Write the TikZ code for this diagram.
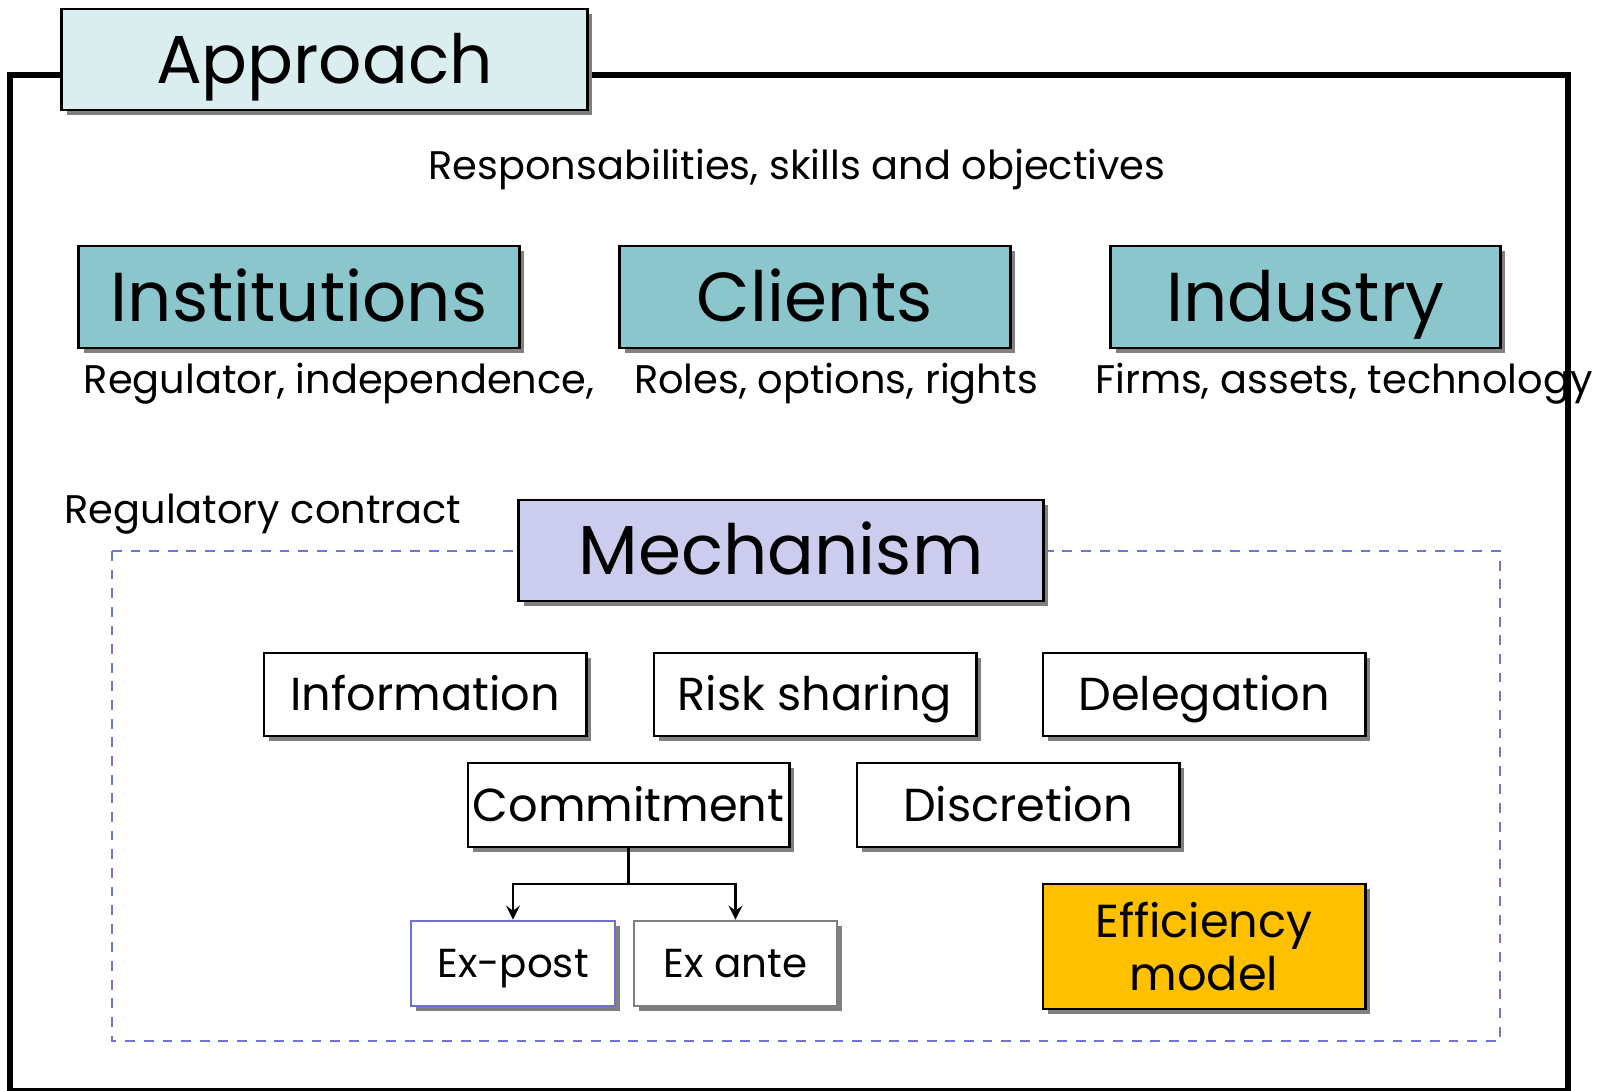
\documentclass[tikz,border=0pt]{standalone}
\usepackage{fontspec}
\setmainfont{Poppins}
\usetikzlibrary{shapes.geometric, arrows, shadows}

\definecolor{apfill}{HTML}{DAEEF0}
\definecolor{tealfill}{HTML}{8AC6CC}
\definecolor{mechfill}{HTML}{CCCCEE}
\definecolor{dashblue}{HTML}{7373D2}
\definecolor{postblue}{HTML}{6F6FD0}
\definecolor{effyellow}{HTML}{FFC000}

\tikzstyle{arrow} = [line width=0.75pt,->,>=stealth]
\tikzstyle{box} = [draw, line width=0.8pt, fill=white, inner sep=0pt,
  drop shadow={shadow xshift=1.5pt, shadow yshift=-1.5pt, fill=gray, opacity=1}]
\tikzstyle{bigbox} = [box, font=\fontsize{19.7}{23}\selectfont, text height=17.7pt, text depth=3.9pt]
\tikzstyle{midbox} = [box, font=\fontsize{13.15}{15.2}\selectfont, text height=11.8pt, text depth=2.6pt]
\tikzstyle{smallbox} = [box, font=\fontsize{11.5}{14}\selectfont, text height=10.35pt, text depth=2.3pt]
\tikzstyle{caption} = [font=\fontsize{11.35}{14}\selectfont]

\begin{document}
\begin{tikzpicture}[x=0.01cm, y=-0.01cm]
\useasboundingbox (0,0) rectangle (1599,1090);

% --- Frame ---
\draw[line width=1.7pt] (10,75) rectangle (1568,1091);
\draw[dashblue, line width=0.8pt, dash pattern=on 2.8pt off 2.5pt] (112,551) rectangle (1500,1041);

% --- Approach ---
\node[bigbox, fill=apfill, minimum width=5.25cm, minimum height=1.01cm,
  font=\fontsize{19.3}{23}\selectfont] (approach) at (324.5,59.5) {Approach};
\node[caption] (resp) at (797,169) {Responsabilities, skills and objectives};

% level 1
\node[bigbox, fill=tealfill, minimum width=4.4cm, minimum height=1.02cm] (inst) at (299,297) {Institutions};
\node[bigbox, fill=tealfill, minimum width=3.9cm, minimum height=1.02cm] (clients) at (815,297) {Clients};
\node[bigbox, fill=tealfill, minimum width=3.89cm, minimum height=1.02cm] (industry) at (1305.5,297) {Industry};

\node[caption] (instlbl) at (339,384) {Regulator, independence,};
\node[caption] (clientslbl) at (836,384) {Roles, options, rights};
\node[caption] (industrylbl) at (1344,384) {Firms, assets, technology};

% --- Mechanism ---
\node[caption] (contract) at (263,514) {Regulatory contract};
\node[bigbox, fill=mechfill, minimum width=5.24cm, minimum height=1.01cm] (mech) at (781,550.5) {Mechanism};

\node[midbox, minimum width=3.22cm, minimum height=0.83cm] (info) at (425,694.5) {Information};
\node[midbox, minimum width=3.22cm, minimum height=0.83cm] (risk) at (815,694.5) {Risk sharing};
\node[midbox, minimum width=3.22cm, minimum height=0.83cm] (deleg) at (1204,694.5) {Delegation};
\node[midbox, minimum width=3.21cm, minimum height=0.84cm] (commit) at (628.5,805) {Commitment};
\node[midbox, minimum width=3.22cm, minimum height=0.84cm] (discr) at (1018,805) {Discretion};

\node[smallbox, draw=postblue, minimum width=2.04cm, minimum height=0.85cm] (expost) at (513,963.5) {Ex-post};
\node[smallbox, draw=gray, minimum width=2.03cm, minimum height=0.85cm] (exante) at (735.5,963.5) {Ex ante};
\node[box, font=\fontsize{13.15}{15.2}\selectfont, fill=effyellow, minimum width=3.22cm,
  minimum height=1.25cm, align=center] (eff) at (1204,946.5) {Efficiency\\model};

% connections
\coordinate (split) at (628.5,884);
\draw[line width=0.8pt] (commit.south) -- (split);
\draw[arrow] (split) -| (expost.north);
\draw[arrow] (split) -| (exante.north);

\end{tikzpicture}
\end{document}
